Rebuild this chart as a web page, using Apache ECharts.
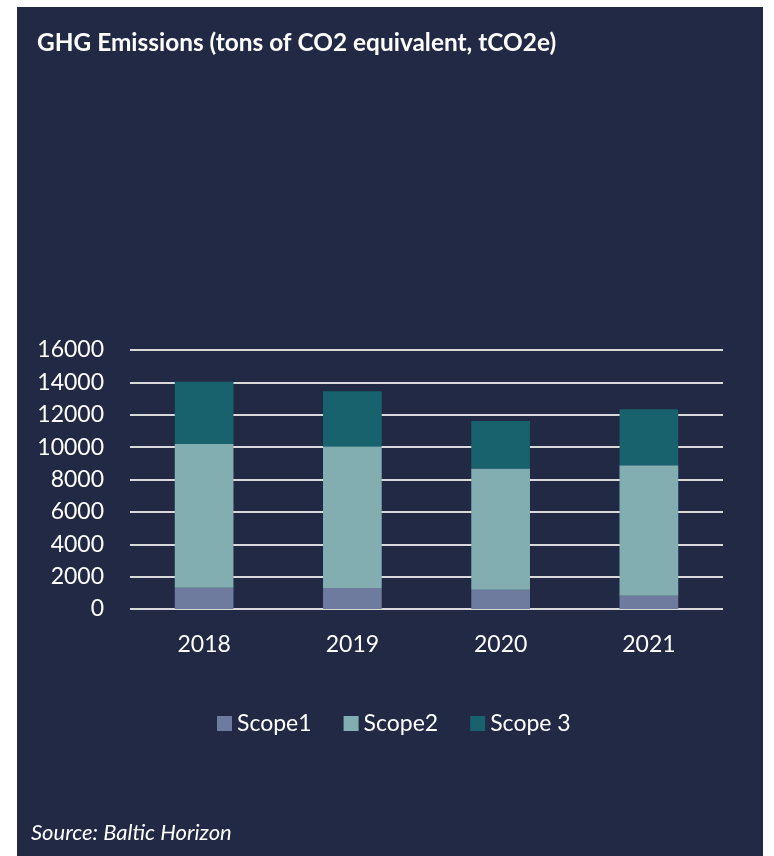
<!DOCTYPE html>
<html><head><meta charset="utf-8">
<script src="https://cdn.jsdelivr.net/npm/echarts@6/dist/echarts.min.js"></script>
<style>html,body{margin:0;padding:0;background:#fff;}#c{width:774px;height:856px;}</style>
</head><body><div id="c"></div>
<script>
const categories = ['2018', '2019', '2020', '2021'];
const scope1 = [1310, 1300, 1190, 820];
const scope2 = [8890, 8730, 7490, 8060];
const scope3 = [3840, 3420, 2940, 3460];
const seriesNames = ['Scope1', 'Scope2', 'Scope 3'];
const colors = ['#6e7b9e', '#82aeb2', '#17626c'];

const font = 'Lato, "Open Sans", sans-serif';
const chart = echarts.init(document.getElementById('c'));
const mk = (name, data, color) => ({
  name, type: 'bar', stack: 'total', data, barWidth: '39.6%',
  itemStyle: { color }
});
chart.setOption({
  backgroundColor: '#ffffff',
  animation: false,
  graphic: [
    { type: 'rect', left: 17, top: 7, shape: { width: 746, height: 849 }, style: { fill: '#212945' }, z: -10 },
    { type: 'text', left: 37, top: 31, style: { text: 'GHG Emissions (tons of CO2 equivalent, tCO2e)', fill: '#ffffff', font: 'bold 24.4px ' + font } },
    { type: 'text', left: 31, top: 822, style: { text: 'Source: Baltic Horizon', fill: '#ffffff', font: 'italic 22px ' + font } }
  ],
  grid: { left: 130, right: 51, top: 350, bottom: 247, containLabel: false },
  legend: {
    data: seriesNames, top: 707, left: 212, itemWidth: 15, itemHeight: 15, itemGap: 32,
    icon: 'rect',
    textStyle: { color: '#ffffff', fontSize: 23, fontFamily: font }
  },
  xAxis: {
    type: 'category', data: categories,
    axisLine: { show: false }, axisTick: { show: false },
    axisLabel: { color: '#ffffff', fontSize: 23, fontFamily: font, margin: 24 }
  },
  yAxis: {
    type: 'value', min: 0, max: 16000, interval: 2000,
    axisLine: { show: false }, axisTick: { show: false },
    axisLabel: { color: '#ffffff', fontSize: 23, fontFamily: font, margin: 26, formatter: v => String(v) },
    splitLine: { lineStyle: { color: '#d9d9d9', width: 2 } }
  },
  series: [mk(seriesNames[0], scope1, colors[0]), mk(seriesNames[1], scope2, colors[1]), mk(seriesNames[2], scope3, colors[2])]
});
</script></body></html>
